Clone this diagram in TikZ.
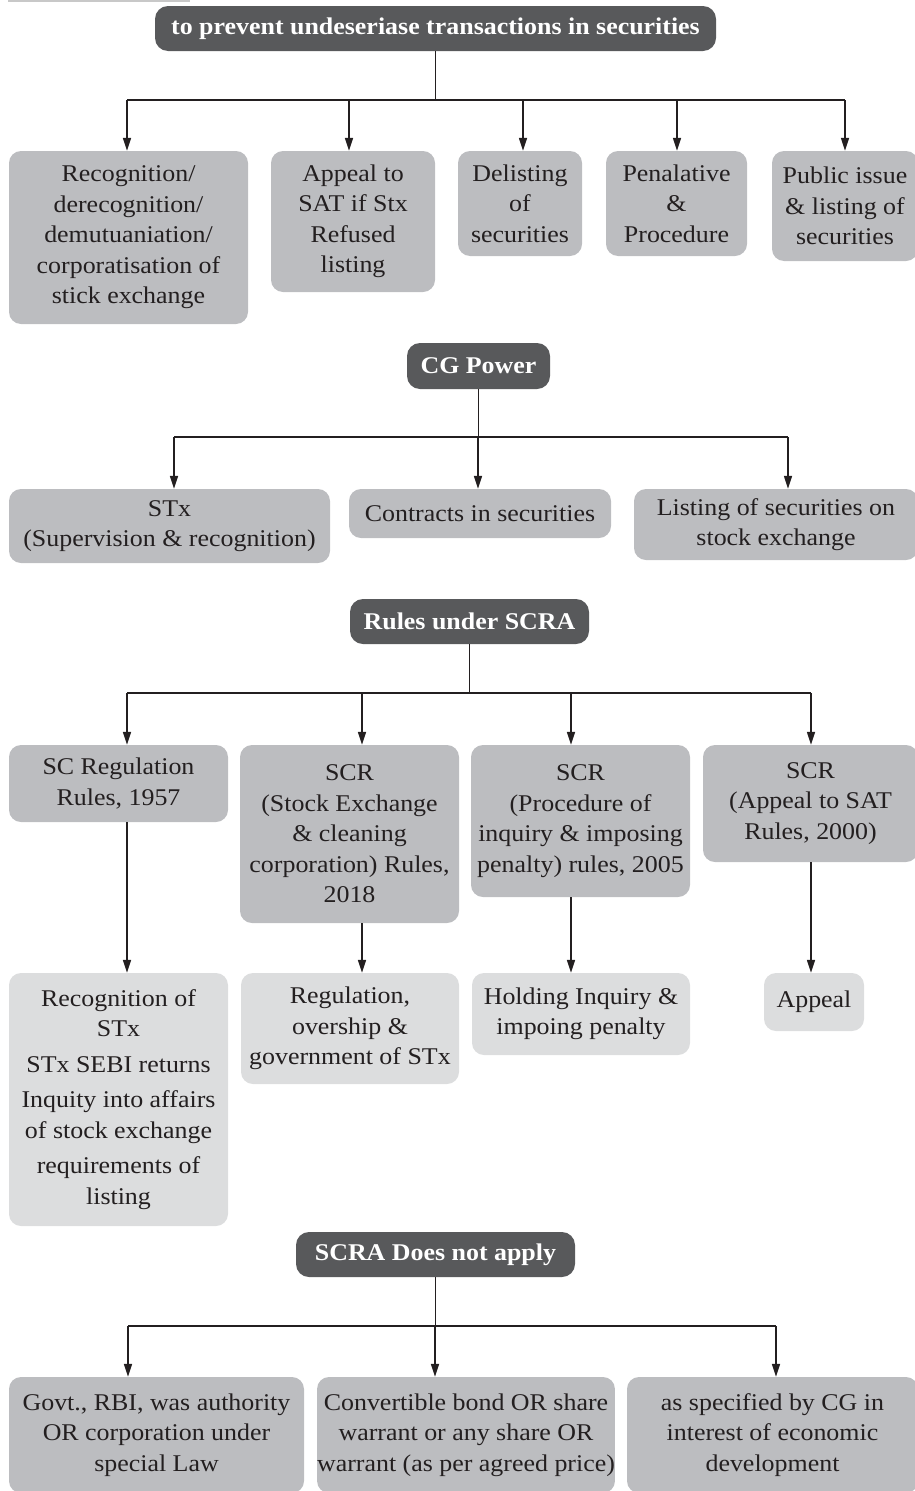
\documentclass[tikz,border=0pt]{standalone}
\usepackage{fontspec}
\setmainfont{Liberation Serif}[FakeStretch=1.08]
\usetikzlibrary{arrows.meta}
\definecolor{hdrgray}{HTML}{58595B}
\definecolor{boxgray}{HTML}{BCBDC0}
\definecolor{leafgray}{HTML}{DCDDDE}
\definecolor{ink}{HTML}{231F20}
\definecolor{rulegray}{HTML}{C8C8C8}

\begin{document}
\begin{tikzpicture}[x=1pt,y=-1pt,
  every node/.style={font=\fontsize{24}{30.5}\selectfont, text=ink},
  hdr/.style={fill=hdrgray, text=white, font=\fontsize{24}{30.5}\selectfont\bfseries,
              rounded corners=13pt, inner sep=0pt, minimum height=45pt},
  card/.style={fill=boxgray, rounded corners=12pt, inner sep=0pt, align=center},
  leaf/.style={card, fill=leafgray},
  link/.style={draw=ink, line width=1.6pt},
  arr/.style={link, -{Triangle[length=13pt,width=8pt]}},
]
\useasboundingbox (0,0) rectangle (915,1491);

% thin rule in the top corner
\draw[rulegray, line width=1.5pt] (8,0.8) -- (190,0.8);

% ---------------- purpose ----------------
\node[hdr, minimum width=561pt] (h1) at (435.5,28.5) {to prevent undeseriase transactions in securities};

\node[card, minimum width=239pt, minimum height=173pt] (b1) at (128.5,237.5)
  {Recognition/\\derecognition/\\demutuaniation/\\corporatisation of\\stick exchange};
\node[card, minimum width=164pt, minimum height=141pt] (b2) at (353,221.5)
  {Appeal to\\SAT if Stx\\Refused\\listing};
\node[card, minimum width=124pt, minimum height=105pt] (b3) at (520,203.5)
  {Delisting\\of\\securities};
\node[card, minimum width=141pt, minimum height=105pt] (b4) at (676.5,203.5)
  {Penalative\\\&\\Procedure};
\node[card, minimum width=146pt, minimum height=110pt] (b5) at (845,206)
  {Public issue\\\& listing of\\securities};

\coordinate (p1) at (127,100);
\coordinate (p2) at (349,100);
\coordinate (p3) at (523,100);
\coordinate (p4) at (677,100);
\coordinate (p5) at (845,100);
\draw[link] (h1.south) -- (h1.south |- p1);
\draw[link] (p1) -- (p5);
\draw[arr] (p1) -- (p1 |- b1.north);
\draw[arr] (p2) -- (p2 |- b2.north);
\draw[arr] (p3) -- (p3 |- b3.north);
\draw[arr] (p4) -- (p4 |- b4.north);
\draw[arr] (p5) -- (p5 |- b5.north);

% ---------------- CG power ----------------
\node[hdr, minimum width=143pt, minimum height=46pt] (h2) at (478.5,366) {CG Power};

\node[card, minimum width=321pt, minimum height=74pt] (c1) at (169.5,526)
  {STx\\(Supervision \& recognition)};
\node[card, minimum width=262pt, minimum height=49pt] (c2) at (480,513.5)
  {Contracts in securities};
\node[card, minimum width=284pt, minimum height=71pt] (c3) at (776,524.5)
  {Listing of securities on\\stock exchange};

\coordinate (q1) at (174,437);
\coordinate (q2) at (478,437);
\coordinate (q3) at (788,437);
\draw[link] (h2.south) -- (h2.south |- q1);
\draw[link] (q1) -- (q3);
\draw[arr] (q1) -- (q1 |- c1.north);
\draw[arr] (q2) -- (q2 |- c2.north);
\draw[arr] (q3) -- (q3 |- c3.north);

% ---------------- rules under SCRA ----------------
\node[hdr, minimum width=239pt] (h3) at (469.5,621.5) {Rules under SCRA};

\node[card, minimum width=219pt, minimum height=77pt] (d1) at (118.5,783.5)
  {SC Regulation\\Rules, 1957};
\node[card, minimum width=219pt, minimum height=178pt] (d2) at (349.5,834)
  {SCR\\(Stock Exchange\\\& cleaning\\corporation) Rules,\\2018};
\node[card, minimum width=219pt, minimum height=152pt] (d3) at (580.5,821)
  {SCR\\(Procedure of\\inquiry \& imposing\\penalty) rules, 2005};
\node[card, minimum width=215pt, minimum height=117pt] (d4) at (810.5,803.5)
  {SCR\\(Appeal to SAT\\Rules, 2000)};

\node[leaf, minimum width=219pt, minimum height=253pt] (l1) at (118.5,1099.5)
  {Recognition of\\STx\\[5pt]STx SEBI returns\\[5pt]Inquity into affairs\\of stock exchange\\[5pt]requirements of\\listing};
\node[leaf, minimum width=218pt, minimum height=111pt] (l2) at (350,1028.5)
  {Regulation,\\overship \&\\government of STx};
\node[leaf, minimum width=218pt, minimum height=82pt] (l3) at (581,1014)
  {Holding Inquiry \&\\impoing penalty};
\node[leaf, minimum width=100pt, minimum height=58pt] (l4) at (814,1002)
  {Appeal};

\coordinate (r1) at (127,693);
\coordinate (r2) at (362,693);
\coordinate (r3) at (571,693);
\coordinate (r4) at (811,693);
\draw[link] (h3.south) -- (h3.south |- r1);
\draw[link] (r1) -- (r4);
\draw[arr] (r1) -- (r1 |- d1.north);
\draw[arr] (r2) -- (r2 |- d2.north);
\draw[arr] (r3) -- (r3 |- d3.north);
\draw[arr] (r4) -- (r4 |- d4.north);
\draw[arr] (r1 |- d1.south) -- (r1 |- l1.north);
\draw[arr] (r2 |- d2.south) -- (r2 |- l2.north);
\draw[arr] (r3 |- d3.south) -- (r3 |- l3.north);
\draw[arr] (r4 |- d4.south) -- (r4 |- l4.north);

% ---------------- SCRA does not apply ----------------
\node[hdr, minimum width=279pt] (h4) at (435.5,1254.5) {SCRA Does not apply};

\node[card, minimum width=295pt, minimum height=116pt] (e1) at (156.5,1435)
  {Govt., RBI, was authority\\OR corporation under\\special Law};
\node[card, minimum width=294pt, minimum height=116pt] (e2) at (466,1435)
  {Convertible bond OR share\\warrant or any share OR\\warrant (as per agreed price)};
\node[card, minimum width=291pt, minimum height=116pt] (e3) at (772.5,1435)
  {as specified by CG in\\interest of economic\\development};

\coordinate (s1) at (128,1326);
\coordinate (s2) at (435,1326);
\coordinate (s3) at (776,1326);
\draw[link] (h4.south) -- (h4.south |- s1);
\draw[link] (s1) -- (s3);
\draw[arr] (s1) -- (s1 |- e1.north);
\draw[arr] (s2) -- (s2 |- e2.north);
\draw[arr] (s3) -- (s3 |- e3.north);

\end{tikzpicture}
\end{document}
